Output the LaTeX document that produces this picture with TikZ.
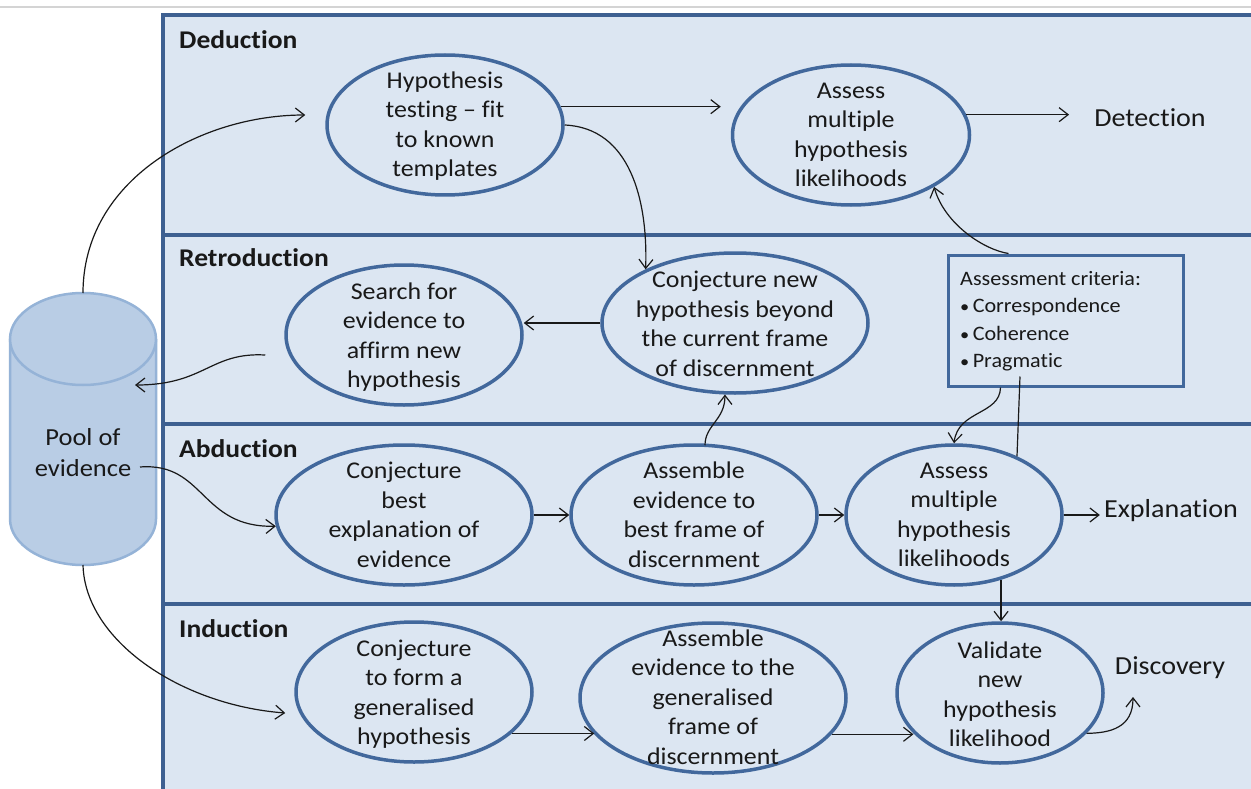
\documentclass[tikz,border=0pt]{standalone}
\usepackage{fontspec}
\setmainfont{Carlito}[FakeStretch=1.08, Ligatures=NoCommon]
\usetikzlibrary{arrows.meta,shapes.geometric,calc}
\definecolor{panelfill}{RGB}{220,230,242}
\definecolor{panelline}{RGB}{62,96,145}
\definecolor{ellline}{RGB}{66,104,156}
\definecolor{cylfill}{RGB}{185,205,229}
\definecolor{cylline}{RGB}{149,179,215}
\definecolor{topline}{RGB}{212,212,212}
\definecolor{inkcol}{RGB}{25,25,25}

\newcommand{\critbullet}{{\fontsize{17}{20}\selectfont •}\,}

\tikzset{
  ell/.style={ellipse, draw=ellline, line width=3.5pt, inner sep=0pt},
  etxt/.style={align=center, inner sep=0pt, text=inkcol,
    font=\fontsize{24}{29.5}\selectfont},
  lane/.style={anchor=west, inner sep=0pt, text=inkcol,
    font=\fontsize{25.5}{29}\selectfont\bfseries},
  outcome/.style={inner sep=0pt, text=inkcol,
    font=\fontsize{26}{30}\selectfont},
  arr/.style={draw=inkcol, line width=1.2pt,
    -{Straight Barb[length=9pt,width=14pt,line width=1.2pt]}},
  plainline/.style={draw=inkcol, line width=1.2pt},
  divider/.style={draw=panelline, line width=3.5pt}
}

\begin{document}
\begin{tikzpicture}[x=1pt,y=-1pt]
\useasboundingbox (0,0) rectangle (1251,789);
\clip (0,0) rectangle (1251,789);
\fill[white] (0,0) rectangle (1251,789);
\draw[topline, line width=1.5pt] (0,7) -- (1251,7);

% swim lanes
\fill[panelfill] (163,15) rectangle (1290,800);
\draw[divider] (1290,15) -- (163,15) -- (163,800);
\draw[divider] (163,235) -- (1290,235);
\draw[divider] (163,424) -- (1290,424);
\draw[divider] (163,604) -- (1290,604);

\node[lane] (lded) at (179,40) {Deduction};
\node[lane] (lret) at (179,258) {Retroduction};
\node[lane] (labd) at (179,449) {Abduction};
\node[lane] (lind) at (179,629) {Induction};

% pool of evidence (cylinder)
\fill[cylfill] (10,339) rectangle (156,519);
\fill[cylfill] (83,519) ellipse [x radius=73pt, y radius=46pt];
\draw[cylline, line width=2.5pt] (10,339) -- (10,519)
  arc[start angle=180, end angle=360, x radius=73pt, y radius=46pt] -- (156,339);
\draw[cylline, line width=2.5pt, fill=cylfill] (83,339) ellipse [x radius=73pt, y radius=46pt];
\node[etxt, font=\fontsize{24.5}{31}\selectfont] (pool) at (83,453) {Pool of\\evidence};
\coordinate (cyltop) at (83,293);
\coordinate (cylbot) at (83,565);
\coordinate (cylin) at (135,385);
\coordinate (cylout) at (140,467);

% ellipses
\node[ell, minimum width=236pt, minimum height=140pt] (ht) at (445,125) {};
\node[ell, minimum width=237pt, minimum height=140pt] (am1) at (851,135) {};
\node[ell, minimum width=236pt, minimum height=140pt] (srch) at (404,335) {};
\node[ell, minimum width=266pt, minimum height=140pt] (cn) at (735,323) {};
\node[ell, minimum width=256pt, minimum height=140pt] (cb) at (404,515) {};
\node[ell, minimum width=246pt, minimum height=140pt] (ab) at (694,515) {};
\node[ell, minimum width=216pt, minimum height=140pt] (am2) at (954,515) {};
\node[ell, minimum width=236pt, minimum height=140pt] (ctf) at (414,692) {};
\node[ell, minimum width=266pt, minimum height=150pt] (ag) at (713,698) {};
\node[ell, minimum width=206pt, minimum height=140pt] (val) at (1000,693) {};

\node[etxt] at (445,126) {Hypothesis\\testing – fit\\to known\\templates};
\node[etxt] at (851,135) {Assess\\multiple\\hypothesis\\likelihoods};
\node[etxt] at (404,337) {Search for\\evidence to\\affirm new\\hypothesis};
\node[etxt] at (735,324) {Conjecture new\\hypothesis beyond\\the current frame\\of discernment};
\node[etxt] at (404,515) {Conjecture\\best\\explanation of\\evidence};
\node[etxt] at (694,515) {Assemble\\evidence to\\best frame of\\discernment};
\node[etxt] at (954,515) {Assess\\multiple\\hypothesis\\likelihoods};
\node[etxt] at (414,694) {Conjecture\\to form a\\generalised\\hypothesis};
\node[etxt] at (713,697) {Assemble\\evidence to the\\generalised\\frame of\\discernment};
\node[etxt] at (1000,694) {Validate\\new\\hypothesis\\likelihood};

% assessment criteria box
\node[draw=ellline, line width=3pt, fill=panelfill, minimum width=235pt,
  minimum height=131pt, inner sep=0pt] (crit) at (1065.5,320.5) {};
\node[anchor=west, align=left, inner sep=0pt, text=inkcol,
  font=\fontsize{20.5}{27.5}\selectfont] (crittxt) at (960,321)
  {Assessment criteria:\\\critbullet Correspondence\\\critbullet Coherence\\\critbullet Pragmatic};

% outcomes
\node[outcome] (det) at (1150,118) {Detection};
\node[outcome] (expl) at (1171,511) {Explanation};
\node[outcome] (disc) at (1170,668) {Discovery};
\coordinate (disctip) at (1133,697);

% connectors
\draw[arr] (cyltop) .. controls (83,180) and (200,115) .. ($(ht.west)+(-20,-10)$);
\draw[arr, shorten >=10pt] (ht.9) -- (ht.9 -| am1.west);
\draw[arr] (ht.east) .. controls (630,128) and (648,200) .. (cn.149);
\draw[arr, shorten >=25pt] (am1.10) -- (am1.10 -| det.west);
\draw[arr] ($(crit.north)+(-57,0)$) .. controls (985,250) and (945,225) .. (am1.-32);
\draw[arr] (cn.west) -- (cn.west -| srch.east);
\draw[arr] ($(srch.west)+(-19,20)$) .. controls (210,352) and (205,385) .. (cylin);
\draw[arr] ($(ab.north)+(11,2)$) .. controls (705,425) and (725,420) .. (cn.-98);
\draw[arr] (cylout) .. controls (205,462) and (200,528) .. (cb.185);
\draw[arr] (cb.east) -- (ab.west);
\draw[arr] (ab.east) -- (am2.west);
\draw[arr] ($(crit.south)+(-65,0)$) .. controls (1000,415) and (958,410) .. (am2.north);
\draw[plainline] ($(crit.south)+(-45.5,-11)$) -- (am2.43);
\draw[arr, shorten >=4pt] (am2.east) -- (am2.east -| expl.west);
\draw[arr] (am2.-54) -- (am2.-54 |- val.north);
\draw[arr] (cylbot) .. controls (85,640) and (180,705) .. ($(ctf.west)+(-9,21)$);
\draw[arr] (ctf.-23) -- (ctf.-23 -| ag.197);
\draw[arr] (ag.-17) -- (ag.-17 -| val.205);
\draw[arr] (val.-25) .. controls (1110,733) and (1133,728) .. (disctip);
\end{tikzpicture}
\end{document}
